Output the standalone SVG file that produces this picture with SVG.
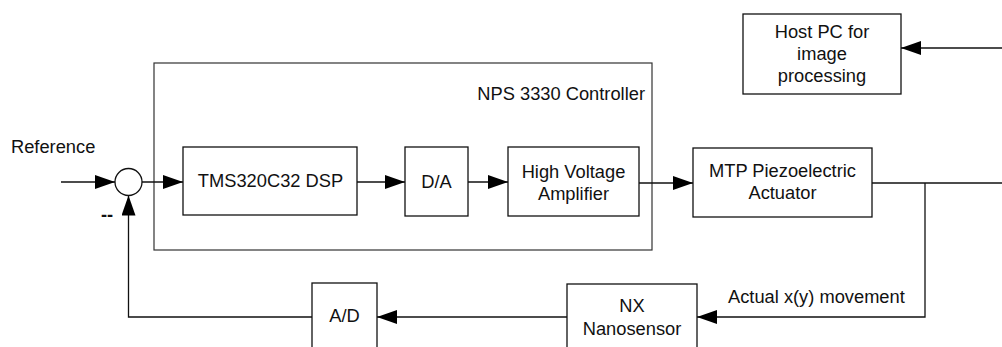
<svg xmlns="http://www.w3.org/2000/svg" width="1002" height="347" viewBox="0 0 1002 347">
<style>
.box{fill:#fff;stroke:#111;stroke-width:1.3}
.ctrl{fill:none;stroke:#333;stroke-width:1.2}
.t{font-family:"Liberation Sans",Arial,sans-serif;font-size:18.3px;fill:#111;text-anchor:middle}
.ts{font-family:"Liberation Sans",Arial,sans-serif;font-size:18.3px;fill:#111}
.ln{fill:none;stroke:#111;stroke-width:1.3}
</style>
<defs>
<marker id="ah" markerUnits="userSpaceOnUse" markerWidth="20" markerHeight="14" refX="20" refY="7" orient="auto">
<path d="M0,0 L20,7 L0,14 Z" fill="#000"/>
</marker>
</defs>
<g id="controller">
<rect class="ctrl" x="154" y="63" width="498" height="187"/>
<text class="ts" x="645" y="100" text-anchor="end">NPS 3330 Controller</text>
</g>
<g id="reference-label">
<text class="ts" x="11" y="153">Reference</text>
</g>
<g id="summing-junction">
<circle cx="128.5" cy="182" r="13.5" fill="#fff" stroke="#111" stroke-width="1.3"/>
<text class="ts" x="101" y="221" font-weight="bold">--</text>
</g>
<g id="dsp">
<rect class="box" x="183" y="147" width="174" height="68"/>
<text class="t" x="270.5" y="187">TMS320C32 DSP</text>
</g>
<g id="da">
<rect class="box" x="405" y="147" width="63" height="69"/>
<text class="t" x="436.5" y="188">D/A</text>
</g>
<g id="hva">
<rect class="box" x="508" y="147" width="131" height="69"/>
<text class="t" x="573.5" y="178">High Voltage</text>
<text class="t" x="573.5" y="200">Amplifier</text>
</g>
<g id="mtp">
<rect class="box" x="693" y="148" width="179" height="69"/>
<text class="t" x="782.5" y="177">MTP Piezoelectric</text>
<text class="t" x="782.5" y="199">Actuator</text>
</g>
<g id="hostpc">
<rect class="box" x="743" y="14" width="158" height="80"/>
<text class="t" x="822" y="38">Host PC for</text>
<text class="t" x="822" y="60">image</text>
<text class="t" x="822" y="82">processing</text>
</g>
<g id="nx">
<rect class="box" x="567" y="284" width="130" height="70"/>
<text class="t" x="632" y="312">NX</text>
<text class="t" x="632" y="335">Nanosensor</text>
</g>
<g id="ad">
<rect class="box" x="312" y="283" width="65" height="70"/>
<text class="t" x="344.5" y="322">A/D</text>
</g>
<g id="connectors">
<line class="ln" x1="61" y1="182" x2="115" y2="182" marker-end="url(#ah)"/>
<line class="ln" x1="142" y1="182" x2="183" y2="182" marker-end="url(#ah)"/>
<line class="ln" x1="357" y1="182" x2="405" y2="182" marker-end="url(#ah)"/>
<line class="ln" x1="468" y1="182" x2="508" y2="182" marker-end="url(#ah)"/>
<line class="ln" x1="639" y1="183" x2="693" y2="183" marker-end="url(#ah)"/>
<line class="ln" x1="872" y1="183" x2="1002" y2="183"/>
<polyline class="ln" points="925,183 925,317 697,317" marker-end="url(#ah)"/>
<line class="ln" x1="567" y1="317" x2="377" y2="317" marker-end="url(#ah)"/>
<polyline class="ln" points="312,317 128.5,317 128.5,195.5" marker-end="url(#ah)"/>
<line class="ln" x1="1002" y1="48" x2="901" y2="48" marker-end="url(#ah)"/>
<text class="ts" x="728" y="303">Actual x(y) movement</text>
</g>
</svg>
